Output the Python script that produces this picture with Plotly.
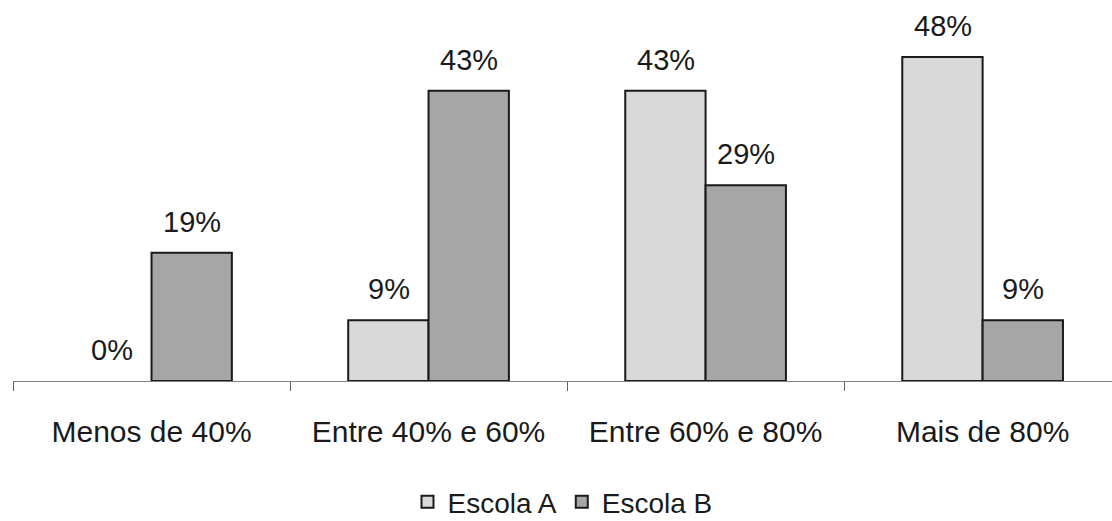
import plotly.graph_objects as go

categories = ["Menos de 40%", "Entre 40% e 60%", "Entre 60% e 80%", "Mais de 80%"]
escola_a = [0, 9, 43, 48]
escola_b = [19, 43, 29, 9]
series_names = ["Escola A", "Escola B"]

FONT = "Liberation Sans, Arial, sans-serif"
TEXT_COLOR = "#1a1a1a"

fig = go.Figure()
for name, vals, color in ((series_names[0], escola_a, "#d9d9d9"), (series_names[1], escola_b, "#a6a6a6")):
    fig.add_trace(go.Bar(
        name=name, x=categories,
        # a 0% bar is drawn as empty (no outline at the baseline), as in the reference
        y=[v if v != 0 else None for v in vals],
        marker=dict(color=color, line=dict(color="#1a1a1a", width=2)),
    ))

bar_px = 80
for vals, shift in ((escola_a, -bar_px / 2), (escola_b, bar_px / 2)):
    for c, v in zip(categories, vals):
        fig.add_annotation(
            x=c, y=v, xref="x", yref="y", text=f"{v}%", showarrow=False,
            xshift=shift, yshift=31, yanchor="middle", xanchor="center",
            font=dict(family=FONT, size=29, color=TEXT_COLOR),
        )

fig.update_layout(
    width=1112, height=521,
    margin=dict(l=13, r=0, t=0, b=140, autoexpand=False),
    paper_bgcolor="white", plot_bgcolor="white",
    barmode="group", bargap=0.42, bargroupgap=0,
    font=dict(family=FONT, color=TEXT_COLOR),
    showlegend=True,
    legend=dict(
        orientation="h", x=0.5, xanchor="center", y=-0.318, yanchor="middle",
        font=dict(family=FONT, size=28, color=TEXT_COLOR),
        itemwidth=30, traceorder="normal",
    ),
    xaxis=dict(
        type="category", range=[-0.5, 3.467],
        showline=True, linecolor="#808080", linewidth=1,
        ticks="outside", tickson="boundaries", ticklen=9, tickcolor="#606060", tickwidth=1,
        tickfont=dict(family=FONT, size=30, color=TEXT_COLOR),
        ticklabelstandoff=24,
        showgrid=False, zeroline=False,
    ),
    yaxis=dict(visible=False, range=[0, 56.44], showgrid=False, zeroline=False),
)

fig.write_html("out.html")
